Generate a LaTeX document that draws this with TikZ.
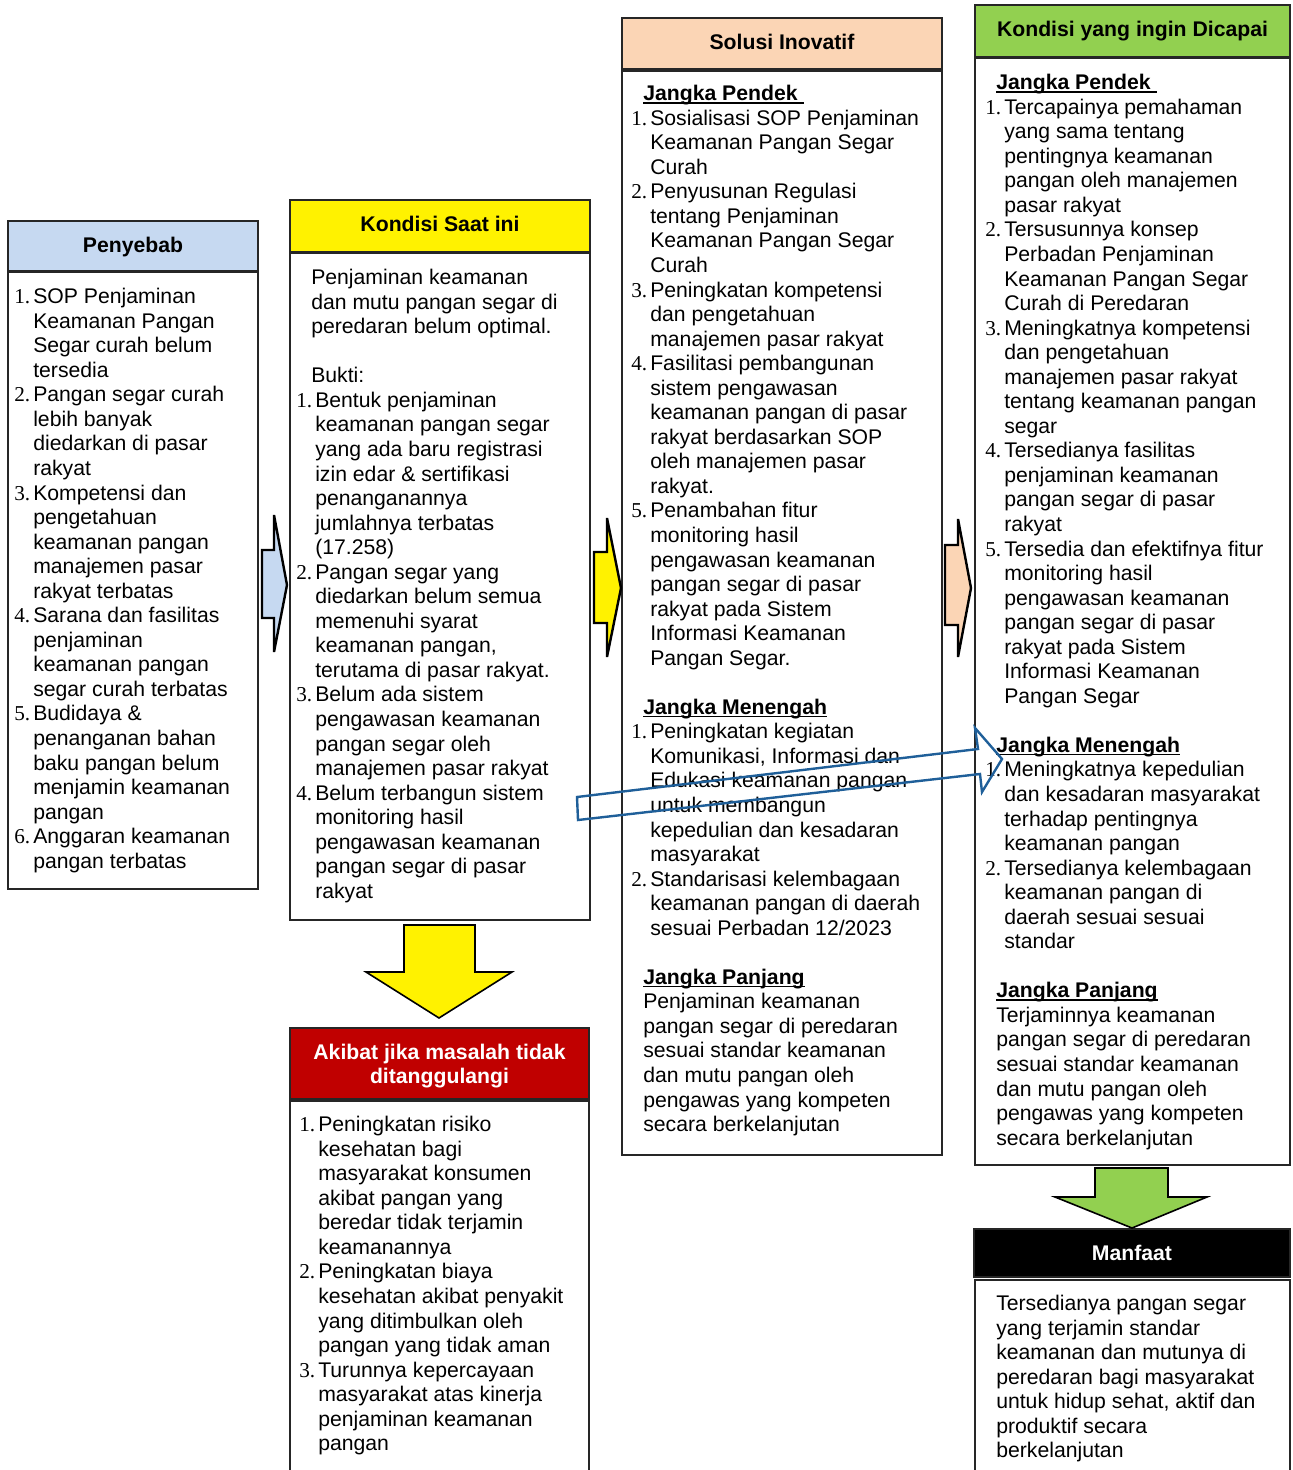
\documentclass[tikz,border=0pt]{standalone}
\usepackage{fontspec}
\setmainfont{Liberation Sans}
\newfontfamily\numf{Liberation Serif}
\usetikzlibrary{fit}
\definecolor{hblue}{RGB}{198,217,241}
\definecolor{hpeach}{RGB}{251,213,181}
\definecolor{hgreen}{RGB}{146,208,80}
\definecolor{hred}{RGB}{192,0,0}
\definecolor{hollowblue}{RGB}{31,95,153}
\newcommand{\bodyfont}{\fontsize{15.9}{18.41}\selectfont}
\newcommand{\nm}[1]{\makebox[14.25pt][l]{\numf #1}}
\newcommand{\ct}{\hspace*{14.25pt}}
\newsavebox{\hdbox}
\newcommand{\hd}[1]{\sbox{\hdbox}{\textbf{#1}}\rlap{\rule[-2.2pt]{\wd\hdbox}{1.1pt}}\usebox{\hdbox}}
\tikzset{
  boxframe/.style={draw=black!85, line width=0.9pt, inner sep=0pt},
  hdrtext/.style={font=\bfseries\bodyfont, align=center},
  bodytext/.style={anchor=north west, inner sep=0pt, align=left, font=\bodyfont},
  fatarrow/.style={draw=black, line width=1.8pt, line join=miter},
}
\begin{document}
\begin{tikzpicture}[x=0.75pt, y=-0.75pt]
\useasboundingbox (0,0) rectangle (1292,1470);
\clip (0,0) rectangle (1292,1470);

% ---------- Penyebab ----------
\node[boxframe, fill=hblue, fit={(8,221)(258,271)}] (penH) {};
\node[hdrtext] at ([yshift=-0.75pt]penH.center) {Penyebab};
\node[boxframe, fit={(8,272)(258,889)}] (penB) {};
\node[bodytext] (penT) at (14,288) {%
\nm{1.}SOP Penjaminan\\
\ct Keamanan Pangan\\
\ct Segar curah belum\\
\ct tersedia\\
\nm{2.}Pangan segar curah\\
\ct lebih banyak\\
\ct diedarkan di pasar\\
\ct rakyat\\
\nm{3.}Kompetensi dan\\
\ct pengetahuan\\
\ct keamanan pangan\\
\ct manajemen pasar\\
\ct rakyat terbatas\\
\nm{4.}Sarana dan fasilitas\\
\ct penjaminan\\
\ct keamanan pangan\\
\ct segar curah terbatas\\
\nm{5.}Budidaya \&\\
\ct penanganan bahan\\
\ct baku pangan belum\\
\ct menjamin keamanan\\
\ct pangan\\
\nm{6.}Anggaran keamanan\\
\ct pangan terbatas};

% ---------- Kondisi Saat ini ----------
\node[boxframe, fill=yellow, fit={(290,200)(590,252)}] (ksiH) {};
\node[hdrtext] at ([yshift=1.5pt]ksiH.center) {Kondisi Saat ini};
\node[boxframe, fit={(290,253)(590,920)}] (ksiB) {};
\node[bodytext] (ksiT) at (296,269) {%
\hspace*{11.25pt}Penjaminan keamanan\\
\hspace*{11.25pt}dan mutu pangan segar di\\
\hspace*{11.25pt}peredaran belum optimal.\\[18.41pt]
\hspace*{11.25pt}Bukti:\\
\nm{1.}Bentuk penjaminan\\
\ct keamanan pangan segar\\
\ct yang ada baru registrasi\\
\ct izin edar \& sertifikasi\\
\ct penanganannya\\
\ct jumlahnya terbatas\\
\ct (17.258)\\
\nm{2.}Pangan segar yang\\
\ct diedarkan belum semua\\
\ct memenuhi syarat\\
\ct keamanan pangan,\\
\ct terutama di pasar rakyat.\\
\nm{3.}Belum ada sistem\\
\ct pengawasan keamanan\\
\ct pangan segar oleh\\
\ct manajemen pasar rakyat\\
\nm{4.}Belum terbangun sistem\\
\ct monitoring hasil\\
\ct pengawasan keamanan\\
\ct pangan segar di pasar\\
\ct rakyat};

% ---------- Akibat ----------
\node[boxframe, fill=hred, fit={(290,1028)(589,1099)}] (akbH) {};
\node[hdrtext, text=white] at ([yshift=-2pt]akbH.center) {Akibat jika masalah tidak\\ditanggulangi};
\draw[boxframe] (290,1480) -- (290,1101) -- (589,1101) -- (589,1480);
\node[bodytext] (akbT) at (299,1116) {%
\nm{1.}Peningkatan risiko\\
\ct kesehatan bagi\\
\ct masyarakat konsumen\\
\ct akibat pangan yang\\
\ct beredar tidak terjamin\\
\ct keamanannya\\
\nm{2.}Peningkatan biaya\\
\ct kesehatan akibat penyakit\\
\ct yang ditimbulkan oleh\\
\ct pangan yang tidak aman\\
\nm{3.}Turunnya kepercayaan\\
\ct masyarakat atas kinerja\\
\ct penjaminan keamanan\\
\ct pangan};

% ---------- Solusi Inovatif ----------
\node[boxframe, fill=hpeach, fit={(622,18)(942,69)}] (solH) {};
\node[hdrtext] at ([yshift=1.5pt]solH.center) {Solusi Inovatif};
\node[boxframe, fit={(622,71)(942,1155)}] (solB) {};
\node[bodytext] (solT) at (631,85) {%
\hspace*{9pt}\hd{Jangka Pendek\ }\\
\nm{1.}Sosialisasi SOP Penjaminan\\
\ct Keamanan Pangan Segar\\
\ct Curah\\
\nm{2.}Penyusunan Regulasi\\
\ct tentang Penjaminan\\
\ct Keamanan Pangan Segar\\
\ct Curah\\
\nm{3.}Peningkatan kompetensi\\
\ct dan pengetahuan\\
\ct manajemen pasar rakyat\\
\nm{4.}Fasilitasi pembangunan\\
\ct sistem pengawasan\\
\ct keamanan pangan di pasar\\
\ct rakyat berdasarkan SOP\\
\ct oleh manajemen pasar\\
\ct rakyat.\\
\nm{5.}Penambahan fitur\\
\ct monitoring hasil\\
\ct pengawasan keamanan\\
\ct pangan segar di pasar\\
\ct rakyat pada Sistem\\
\ct Informasi Keamanan\\
\ct Pangan Segar.\\[18.41pt]
\hspace*{9pt}\hd{Jangka Menengah}\\
\nm{1.}Peningkatan kegiatan\\
\ct Komunikasi, Informasi dan\\
\ct Edukasi keamanan pangan\\
\ct untuk membangun\\
\ct kepedulian dan kesadaran\\
\ct masyarakat\\
\nm{2.}Standarisasi kelembagaan\\
\ct keamanan pangan di daerah\\
\ct sesuai Perbadan 12/2023\\[18.41pt]
\hspace*{9pt}\hd{Jangka Panjang}\\
\hspace*{9pt}Penjaminan keamanan\\
\hspace*{9pt}pangan segar di peredaran\\
\hspace*{9pt}sesuai standar keamanan\\
\hspace*{9pt}dan mutu pangan oleh\\
\hspace*{9pt}pengawas yang kompeten\\
\hspace*{9pt}secara berkelanjutan};

% ---------- Kondisi yang ingin Dicapai ----------
\node[boxframe, fill=hgreen, fit={(975,5)(1290,57)}] (kidH) {};
\node[hdrtext] at (kidH.center) {Kondisi yang ingin Dicapai};
\node[boxframe, fit={(975,58)(1290,1165)}] (kidB) {};
\node[bodytext] (kidT) at (985,74) {%
\hspace*{8.25pt}\hd{Jangka Pendek\ }\\
\nm{1.}Tercapainya pemahaman\\
\ct yang sama tentang\\
\ct pentingnya keamanan\\
\ct pangan oleh manajemen\\
\ct pasar rakyat\\
\nm{2.}Tersusunnya konsep\\
\ct Perbadan Penjaminan\\
\ct Keamanan Pangan Segar\\
\ct Curah di Peredaran\\
\nm{3.}Meningkatnya kompetensi\\
\ct dan pengetahuan\\
\ct manajemen pasar rakyat\\
\ct tentang keamanan pangan\\
\ct segar\\
\nm{4.}Tersedianya fasilitas\\
\ct penjaminan keamanan\\
\ct pangan segar di pasar\\
\ct rakyat\\
\nm{5.}Tersedia dan efektifnya fitur\\
\ct monitoring hasil\\
\ct pengawasan keamanan\\
\ct pangan segar di pasar\\
\ct rakyat pada Sistem\\
\ct Informasi Keamanan\\
\ct Pangan Segar\\[18.41pt]
\hspace*{8.25pt}\hd{Jangka Menengah}\\
\nm{1.}Meningkatnya kepedulian\\
\ct dan kesadaran masyarakat\\
\ct terhadap pentingnya\\
\ct keamanan pangan\\
\nm{2.}Tersedianya kelembagaan\\
\ct keamanan pangan di\\
\ct daerah sesuai sesuai\\
\ct standar\\[18.41pt]
\hspace*{8.25pt}\hd{Jangka Panjang}\\
\hspace*{8.25pt}Terjaminnya keamanan\\
\hspace*{8.25pt}pangan segar di peredaran\\
\hspace*{8.25pt}sesuai standar keamanan\\
\hspace*{8.25pt}dan mutu pangan oleh\\
\hspace*{8.25pt}pengawas yang kompeten\\
\hspace*{8.25pt}secara berkelanjutan};

% ---------- Manfaat ----------
\node[boxframe, fill=black, fit={(974,1229)(1290,1277)}] (manH) {};
\node[hdrtext, text=white] at (manH.center) {Manfaat};
\draw[boxframe] (975,1480) -- (975,1280) -- (1290,1280) -- (1290,1480);
\node[bodytext] (manT) at (996,1295) {%
Tersedianya pangan segar\\
yang terjamin standar\\
keamanan dan mutunya di\\
peredaran bagi masyarakat\\
untuk hidup sehat, aktif dan\\
produktif secara\\
berkelanjutan};

% ---------- Arrows ----------
\draw[fatarrow, fill=hblue] (262,550) -- (274,550) -- (274,515) -- (287,585) -- (274,652) -- (274,618) -- (262,618) -- cycle;
\draw[fatarrow, fill=yellow] (594,552) -- (607,552) -- (607,518) -- (621,588) -- (607,657) -- (607,623) -- (594,623) -- cycle;
\draw[fatarrow, fill=hpeach] (945,545) -- (958,545) -- (958,519) -- (971,588) -- (958,657) -- (958,625) -- (945,625) -- cycle;

\draw[draw=black, line width=1.2pt, fill=yellow] (404,925) -- (475,925) -- (475,972) -- (512,972) -- (439,1018) -- (366,972) -- (404,972) -- cycle;
\draw[draw=black, line width=1.2pt, fill=hgreen] (1095,1168) -- (1168,1168) -- (1168,1197) -- (1207,1197) -- (1132,1228) -- (1055,1197) -- (1095,1197) -- cycle;

\draw[draw=hollowblue, line width=1.8pt, line join=miter] (577,797) -- (978,749) -- (975,728) -- (1002,759) -- (982,792) -- (980,774) -- (578,820) -- cycle;
\end{tikzpicture}
\end{document}
